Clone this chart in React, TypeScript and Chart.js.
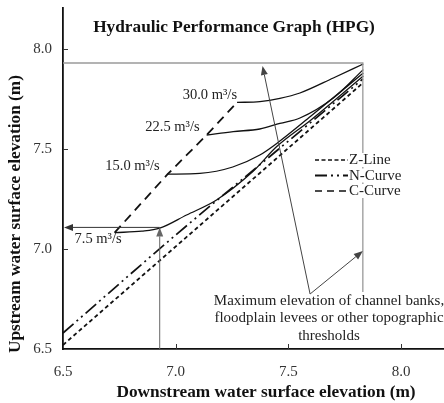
import React, { useEffect, useRef } from "react";
import { Chart, registerables } from "chart.js";

Chart.register(...registerables);

// ---- axes ----
const xTicks = [6.5, 7.0, 7.5, 8.0];
const yTicks = [6.5, 7.0, 7.5, 8.0];
const xMin = 6.5;
const xMax = 8.19;
const yMin = 6.5;
const yMax = 8.205;

// ---- reference lines ----
const zLineX = [6.5, 7.83];
const zLineY = [6.52, 7.83];
const nCurveX = [6.5, 7.0, 7.5, 7.83];
const nCurveY = [6.58, 7.07, 7.54, 7.85];
const cCurveX = [6.729, 6.964, 7.137, 7.272];
const cCurveY = [7.082, 7.374, 7.57, 7.733];

// ---- flow curves ----
const flowLabels = ["7.5 m³/s", "15.0 m³/s", "22.5 m³/s", "30.0 m³/s"];
const q075X = [6.729, 6.85, 6.929, 7.048, 7.181, 7.342, 7.448, 7.6, 7.832];
const q075Y = [7.082, 7.089, 7.104, 7.17, 7.245, 7.387, 7.512, 7.645, 7.865];
const q150X = [6.964, 7.107, 7.253, 7.373, 7.448, 7.6, 7.832];
const q150Y = [7.374, 7.378, 7.41, 7.47, 7.528, 7.665, 7.88];
const q225X = [7.137, 7.255, 7.373, 7.462, 7.551, 7.699, 7.832];
const q225Y = [7.57, 7.587, 7.6, 7.628, 7.655, 7.755, 7.897];
const q300X = [7.272, 7.373, 7.462, 7.551, 7.699, 7.832];
const q300Y = [7.733, 7.737, 7.753, 7.78, 7.855, 7.925];

// ---- thresholds & reading ----
const bankX = [6.5, 7.83, 7.83];
const bankY = [7.93, 7.93, 6.785];
const readDownstream = 6.929;
const readUpstream = 7.108;
const pointerFrom = [7.596, 6.775];
const pointerToX = [7.385, 7.83];
const pointerToY = [7.915, 6.99];

// ---- texts ----
const titleText = "Hydraulic Performance Graph (HPG)";
const xTitle = "Downstream water surface elevation (m)";
const yTitle = "Upstream water surface elevation (m)";
const noteLines = [
  "Maximum elevation of channel banks,",
  "floodplain levees or other topographic",
  "thresholds",
];
const legendNames = ["Z-Line", "N-Curve", "C-Curve"];

const SERIF = '"Liberation Serif", "Times New Roman", serif';
const zip = (xs: number[], ys: number[]) => xs.map((v, i) => ({ x: v, y: ys[i] }));

const labelOffsets = [
  [7, 7, "right"],
  [-8, -8, "right"],
  [-7, -8, "right"],
  [0, -7, "right"],
];
const legendDash = [[4, 2.5], [12, 4, 2, 4, 2, 4], [7, 5]];
const plotDash = { z: [4, 3], n: [14, 4, 2, 4, 2, 4], c: [9, 6] };

function arrow(ctx: CanvasRenderingContext2D, x1: number, y1: number, x2: number, y2: number, color: string) {
  ctx.save();
  ctx.strokeStyle = color;
  ctx.fillStyle = color;
  ctx.lineWidth = 1;
  ctx.setLineDash([]);
  const ang = Math.atan2(y2 - y1, x2 - x1);
  const L = 9, W = 3.5;
  const bx = x2 - L * Math.cos(ang), by = y2 - L * Math.sin(ang);
  ctx.beginPath();
  ctx.moveTo(x1, y1);
  ctx.lineTo(bx, by);
  ctx.stroke();
  ctx.beginPath();
  ctx.moveTo(x2, y2);
  ctx.lineTo(bx + W * Math.sin(ang), by - W * Math.cos(ang));
  ctx.lineTo(bx - W * Math.sin(ang), by + W * Math.cos(ang));
  ctx.closePath();
  ctx.fill();
  ctx.restore();
}

const decoPlugin = {
  id: "deco",
  afterDatasetsDraw(chart: any) {
    const ctx: CanvasRenderingContext2D = chart.ctx;
    const xs = chart.scales.x, ys = chart.scales.y;
    const px = (v: number) => xs.getPixelForValue(v);
    const py = (v: number) => ys.getPixelForValue(v);
    const area = chart.chartArea;
    ctx.save();

    // inward tick marks
    ctx.strokeStyle = "#333";
    ctx.lineWidth = 1;
    ctx.setLineDash([]);
    xTicks.forEach((t) => {
      if (t === xMin) return;
      const x = Math.round(px(t)) + 0.5;
      ctx.beginPath();
      ctx.moveTo(x, area.bottom);
      ctx.lineTo(x, area.bottom - 5);
      ctx.stroke();
    });
    yTicks.forEach((t) => {
      if (t === yMin) return;
      const y = Math.round(py(t)) + 0.5;
      ctx.beginPath();
      ctx.moveTo(area.left, y);
      ctx.lineTo(area.left + 5, y);
      ctx.stroke();
    });

    // reading arrows
    arrow(ctx, px(readDownstream), py(yMin), px(readDownstream), py(readUpstream), "#666");
    arrow(ctx, px(readDownstream), py(readUpstream), px(xMin) + 1, py(readUpstream), "#333");
    // pointer arrows
    pointerToX.forEach((tx, i) => {
      arrow(ctx, px(pointerFrom[0]), py(pointerFrom[1]), px(tx), py(pointerToY[i]), "#444");
    });

    // flow labels
    ctx.fillStyle = "#222";
    ctx.font = `14.5px ${SERIF}`;
    ctx.textBaseline = "middle";
    flowLabels.forEach((lab, i) => {
      const sx = [q075X, q150X, q225X, q300X][i][0];
      const sy = [q075Y, q150Y, q225Y, q300Y][i][0];
      const [dx, dy, al] = labelOffsets[i] as [number, number, CanvasTextAlign];
      ctx.textAlign = al;
      ctx.fillText(lab, px(sx) + dx, py(sy) + dy);
    });

    // legend
    const lgX = 315, lgTextX = 349;
    const lgY = [160, 175.5, 191];
    legendNames.forEach((name, i) => {
      ctx.font = `15px ${SERIF}`;
      const w = ctx.measureText(name).width;
      ctx.fillStyle = "#fff";
      ctx.fillRect(lgTextX - 1, lgY[i] - 7, w + 2, 14);
      ctx.strokeStyle = "#111";
      ctx.lineWidth = i === 1 ? 2 : 1.6;
      ctx.setLineDash(legendDash[i]);
      ctx.beginPath();
      ctx.moveTo(lgX, lgY[i]);
      ctx.lineTo(lgTextX - 1, lgY[i]);
      ctx.stroke();
      ctx.setLineDash([]);
      ctx.fillStyle = "#222";
      ctx.textAlign = "left";
      ctx.textBaseline = "middle";
      ctx.fillText(name, lgTextX, lgY[i] + 0.5);
    });

    // note
    ctx.font = `15px ${SERIF}`;
    ctx.fillStyle = "#222";
    ctx.textAlign = "center";
    ctx.textBaseline = "middle";
    noteLines.forEach((l, i) => ctx.fillText(l, 329, 301 + i * 17.5));

    // title
    ctx.font = `bold 17.3px ${SERIF}`;
    ctx.fillStyle = "#111";
    ctx.fillText(titleText, 234, 28);

    // axis titles
    ctx.fillText(xTitle, 266, 393);
    ctx.save();
    ctx.translate(16, 214);
    ctx.rotate(-Math.PI / 2);
    ctx.fillText(yTitle, 0, 0);
    ctx.restore();

    ctx.restore();
  },
};

export default function App() {
  const ref = useRef<HTMLCanvasElement | null>(null);
  useEffect(() => {
    if (!ref.current) return;
    const line = (data: any[], extra: any) => ({
      data,
      showLine: true,
      pointRadius: 0,
      borderColor: "#111",
      borderWidth: 1.3,
      fill: false,
      ...extra,
    });
    const chart = new Chart(ref.current, {
      type: "scatter",
      data: {
        datasets: [
          line(zip(bankX, bankY), { borderColor: "#9a9a9a", borderWidth: 1.3, tension: 0 }),
          line(zip(zLineX, zLineY), { borderDash: plotDash.z, borderWidth: 1.8 }),
          line(zip(nCurveX, nCurveY), { borderDash: plotDash.n, borderWidth: 1.7, cubicInterpolationMode: "monotone" }),
          line(zip(cCurveX, cCurveY), { borderDash: plotDash.c, borderWidth: 1.8 }),
          line(zip(q075X, q075Y), { cubicInterpolationMode: "monotone" }),
          line(zip(q150X, q150Y), { cubicInterpolationMode: "monotone" }),
          line(zip(q225X, q225Y), { cubicInterpolationMode: "monotone" }),
          line(zip(q300X, q300Y), { cubicInterpolationMode: "monotone" }),
        ],
      },
      options: {
        animation: false,
        responsive: false,
        devicePixelRatio: 1,
        layout: { padding: { top: 8, left: 0, right: 0, bottom: 0 } },
        plugins: { legend: { display: false }, tooltip: { enabled: false }, title: { display: false } },
        scales: {
          x: {
            type: "linear",
            min: xMin,
            max: xMax,
            afterFit: (s: any) => { s.height = 54; s.paddingLeft = 0; s.paddingRight = 0; },
            afterBuildTicks: (s: any) => { s.ticks = xTicks.map((v) => ({ value: v })); },
            grid: { display: false, drawTicks: false },
            border: { display: true, color: "#111", width: 1.8 },
            ticks: {
              padding: 14,
              color: "#333",
              font: { family: SERIF, size: 15 },
              callback: (v: any) => Number(v).toFixed(1),
            },
          },
          y: {
            type: "linear",
            min: yMin,
            max: yMax,
            afterFit: (s: any) => { s.width = 63; s.paddingTop = 0; s.paddingBottom = 0; },
            afterBuildTicks: (s: any) => { s.ticks = yTicks.map((v) => ({ value: v })); },
            grid: { display: false, drawTicks: false },
            border: { display: true, color: "#111", width: 1.8 },
            ticks: {
              padding: 11,
              color: "#333",
              font: { family: SERIF, size: 15 },
              callback: (v: any) => Number(v).toFixed(1),
            },
          },
        },
      },
      plugins: [decoPlugin],
    });
    return () => chart.destroy();
  }, []);
  return (
    <div style={{ position: "absolute", left: 0, top: 0, width: 444, height: 403, background: "#fff" }}>
      <canvas ref={ref} width={444} height={403} />
    </div>
  );
}
